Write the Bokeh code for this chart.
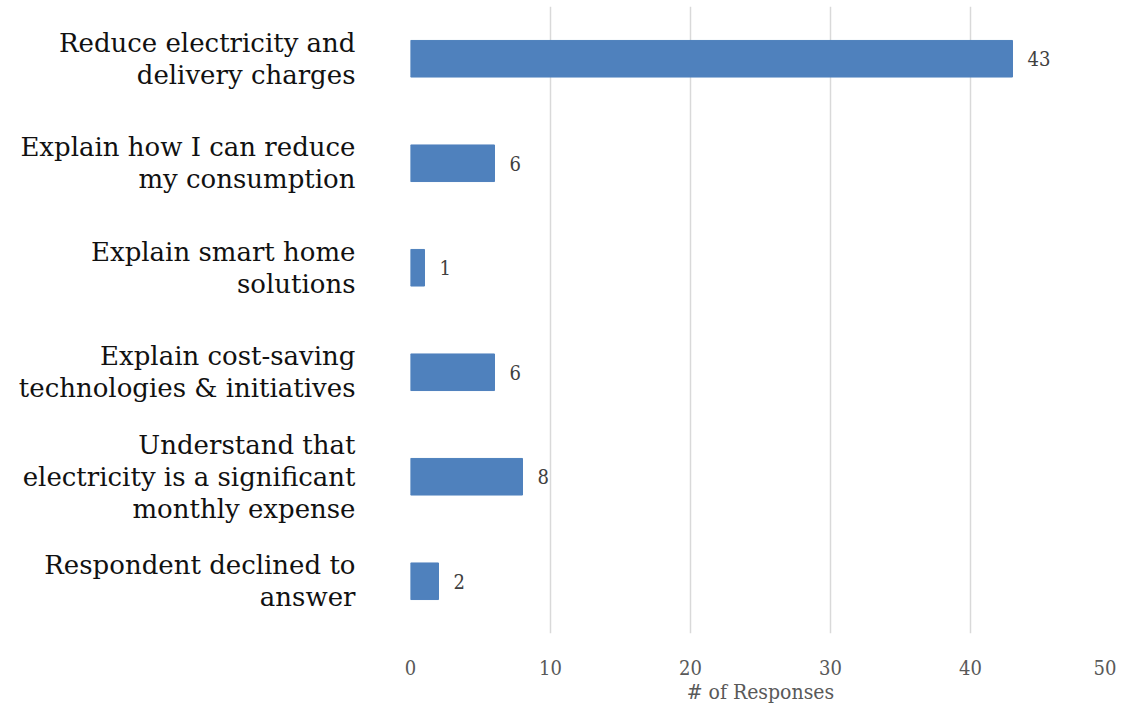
from bokeh.plotting import figure
from bokeh.models import ColumnDataSource, FactorRange, Range1d, FixedTicker
from bokeh.core.properties import value
from bokeh.embed import file_html
from bokeh.resources import INLINE

categories = [
    "Reduce electricity and\ndelivery charges",
    "Explain how I can reduce\nmy consumption",
    "Explain smart home\nsolutions",
    "Explain cost-saving\ntechnologies & initiatives",
    "Understand that\nelectricity is a significant\nmonthly expense",
    "Respondent declined to\nanswer",
]
responses = [43, 6, 1, 6, 8, 2]
x_ticks = [0, 10, 20, 30, 40, 50]

SERIF = "DejaVu Serif"
COND = "DejaVu Serif Condensed, Liberation Serif"

src = ColumnDataSource(dict(cat=categories, val=responses, lab=[str(v) for v in responses]))

p = figure(
    width=1116, height=706,
    y_range=FactorRange(factors=list(reversed(categories)), range_padding=0),
    x_range=Range1d(0, 50),
    output_backend="svg", toolbar_location=None,
    min_border_left=410, min_border_right=6, min_border_top=6, min_border_bottom=70,
)
p.outline_line_color = None

p.hbar(y="cat", right="val", left=0, height=0.35, source=src,
       fill_color="#4F81BD", line_color="#4F81BD")
p.text(x="val", y="cat", text="lab", source=src, x_offset=15,
       text_align="left", text_baseline="middle", text_font=value(COND),
       text_font_size="20px", text_color="#404040")

p.xaxis.ticker = FixedTicker(ticks=x_ticks)
p.xaxis.axis_line_color = None
p.xaxis.major_tick_line_color = None
p.xaxis.minor_tick_line_color = None
p.xaxis.major_label_text_font = COND
p.xaxis.major_label_text_font_size = "20px"
p.xaxis.major_label_text_color = "#595959"
p.xaxis.major_label_standoff = 20
p.xaxis.axis_label = "# of Responses"
p.xaxis.axis_label_text_font = COND
p.xaxis.axis_label_text_font_size = "21px"
p.xaxis.axis_label_text_font_style = "normal"
p.xaxis.axis_label_text_color = "#595959"
p.xaxis.axis_label_standoff = 2

p.yaxis.axis_line_color = None
p.yaxis.major_tick_line_color = None
p.yaxis.minor_tick_line_color = None
p.yaxis.major_label_text_font = SERIF
p.yaxis.major_label_text_font_size = "26px"
p.yaxis.major_label_text_color = "#111111"
p.yaxis.major_label_text_line_height = 1.07
p.yaxis.major_label_standoff = 49

p.ygrid.grid_line_color = None
p.xgrid.grid_line_color = "#D9D9D9"
p.xgrid.grid_line_width = 1.5

open("out.html", "w").write(file_html(p, INLINE))
